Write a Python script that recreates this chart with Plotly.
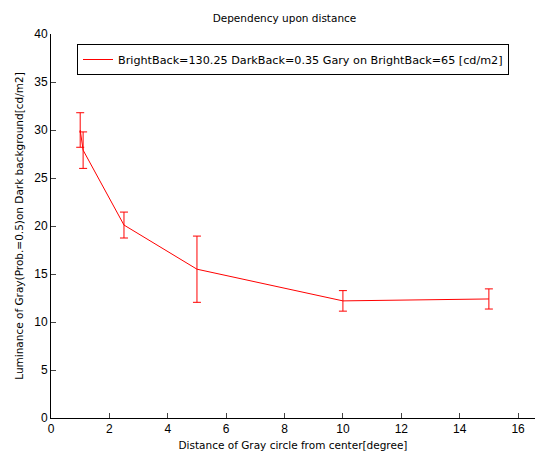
import plotly.graph_objects as go

distance = [1.0, 1.1, 2.5, 5.0, 10.0, 15.0]
luminance = [30.0, 27.9, 20.1, 15.5, 12.2, 12.4]
error = [1.8, 1.9, 1.35, 3.45, 1.07, 1.05]
x_ticks = [0, 2, 4, 6, 8, 10, 12, 14, 16]
y_ticks = [0, 5, 10, 15, 20, 25, 30, 35, 40]
legend_label = "BrightBack=130.25 DarkBack=0.35 Gary on BrightBack=65 [cd/m2]"

FONT = "DejaVu Sans, sans-serif"
TICKFONT = "Liberation Sans, Arial, sans-serif"

fig = go.Figure()
fig.add_trace(go.Scatter(
    x=distance, y=luminance, mode="lines", name=legend_label,
    line=dict(color="#ff0000", width=1),
    error_y=dict(type="data", array=error, visible=True, color="#ff0000",
                 thickness=1, width=4),
))

fig.update_layout(
    width=535, height=455,
    margin=dict(l=51, r=0, t=34, b=37),
    paper_bgcolor="white", plot_bgcolor="white",
    font=dict(family=FONT, size=11, color="black"),
    title=dict(text="Dependency upon distance", x=(51 + 518) / 2 / 535, xanchor="center",
               y=1 - 18 / 455, yanchor="middle", font=dict(size=10.5)),
    showlegend=True,
    legend=dict(x=(77 - 51) / 484, y=(418 - 44) / 384, xanchor="left", yanchor="top",
                bordercolor="black", borderwidth=1, bgcolor="white",
                font=dict(size=11.2), itemwidth=30, tracegroupgap=0),
    xaxis=dict(range=[0, 16.58], tickvals=x_ticks, ticks="inside", ticklen=5,
               showgrid=False, zeroline=False, showline=True, linecolor="black",
               linewidth=1, tickfont=dict(size=12, family=TICKFONT),
               title=dict(text="Distance of Gray circle from center[degree]",
                          font=dict(size=10.5), standoff=6)),
    yaxis=dict(range=[0, 40], tickvals=y_ticks, ticks="inside", ticklen=5,
               showgrid=False, zeroline=False, showline=True, linecolor="black",
               linewidth=1, tickfont=dict(size=12, family=TICKFONT),
               title=dict(text="Luminance of Gray(Prob.=0.5)on Dark background[cd/m2]",
                          font=dict(size=10.5), standoff=8)),
)

fig.write_html("out.html")
